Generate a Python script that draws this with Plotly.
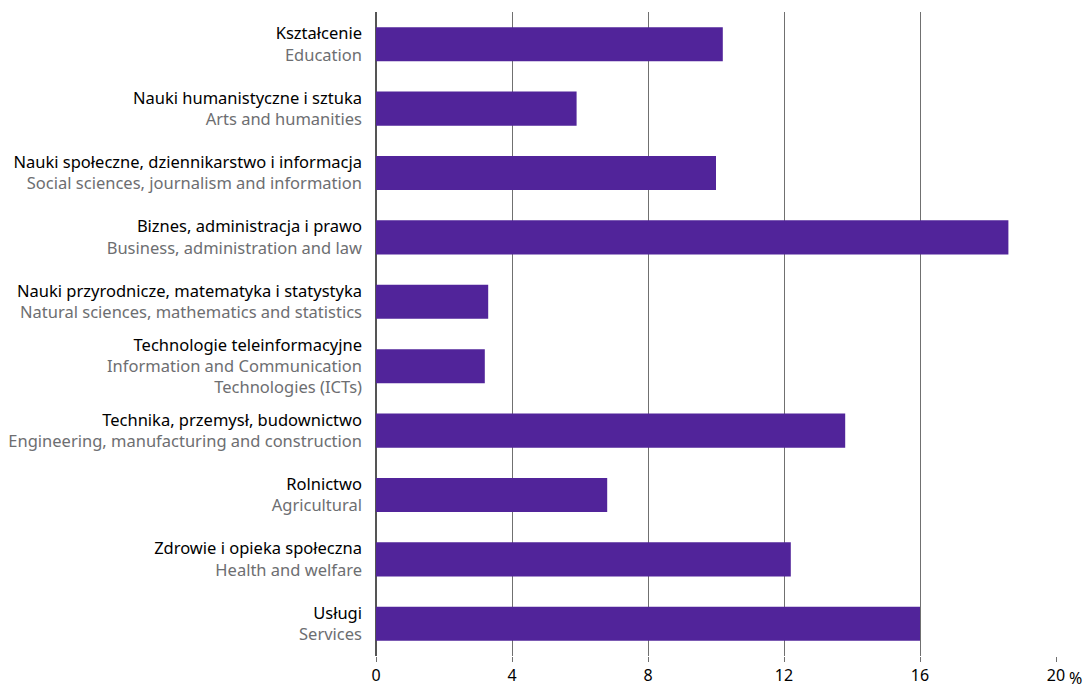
import plotly.graph_objects as go

pl_labels = [
    "Kształcenie",
    "Nauki humanistyczne i sztuka",
    "Nauki społeczne, dziennikarstwo i informacja",
    "Biznes, administracja i prawo",
    "Nauki przyrodnicze, matematyka i statystyka",
    "Technologie teleinformacyjne",
    "Technika, przemysł, budownictwo",
    "Rolnictwo",
    "Zdrowie i opieka społeczna",
    "Usługi",
]
en_labels = [
    "Education",
    "Arts and humanities",
    "Social sciences, journalism and information",
    "Business, administration and law",
    "Natural sciences, mathematics and statistics",
    "Information and Communication<br>Technologies (ICTs)",
    "Engineering, manufacturing and construction",
    "Agricultural",
    "Health and welfare",
    "Services",
]
values = [10.2, 5.9, 10.0, 18.6, 3.3, 3.2, 13.8, 6.8, 12.2, 16.0]

tick_vals = [0, 4, 8, 12, 16, 20]

GREY_TXT = "#6d6e71"
LINE = "#707070"

ticktext = [
    f"{pl}<br><span style='color:{GREY_TXT}'>{en.replace('<br>', f'</span><br><span style=\"color:{GREY_TXT}\">')}</span>"
    for pl, en in zip(pl_labels, en_labels)
]

fig = go.Figure()
fig.add_trace(go.Bar(
    x=values, y=list(range(len(values))),
    orientation="h",
    marker=dict(color="#51249a", line=dict(width=0)),
    width=0.53,
))

fig.update_yaxes(
    tickvals=list(range(len(values))), ticktext=ticktext,
    autorange="reversed", range=[9.5, -0.5],
    showgrid=False, zeroline=False, ticks="",
    ticklabelstandoff=13, automargin=False,
)
fig.update_xaxes(
    range=[0, 20], tickvals=tick_vals,
    showgrid=True, gridcolor=LINE, gridwidth=1,
    zeroline=True, zerolinecolor="#555555", zerolinewidth=1.5,
    ticks="outside", ticklen=5, tickcolor=LINE,
    automargin=False,
    tickfont=dict(size=16, color="#000"),
)
fig.add_annotation(x=20, y=0, xref="x", yref="paper", text="%",
                   showarrow=False, xshift=12, yshift=-22,
                   xanchor="left", yanchor="middle", borderpad=0,
                   font=dict(size=16, color="#000"))

fig.update_layout(
    width=1089, height=685,
    margin=dict(l=376, r=33, t=12, b=29),
    plot_bgcolor="white", paper_bgcolor="white",
    font=dict(family="Noto Sans", size=16.5, color="#000"),
    showlegend=False,
    bargap=0.47,
)

# page has a default 8px body margin; drop it so the 1089x685 figure fits the window
fig.write_html("out.html", config={"displayModeBar": False},
               post_script="document.body.style.margin='0';")
